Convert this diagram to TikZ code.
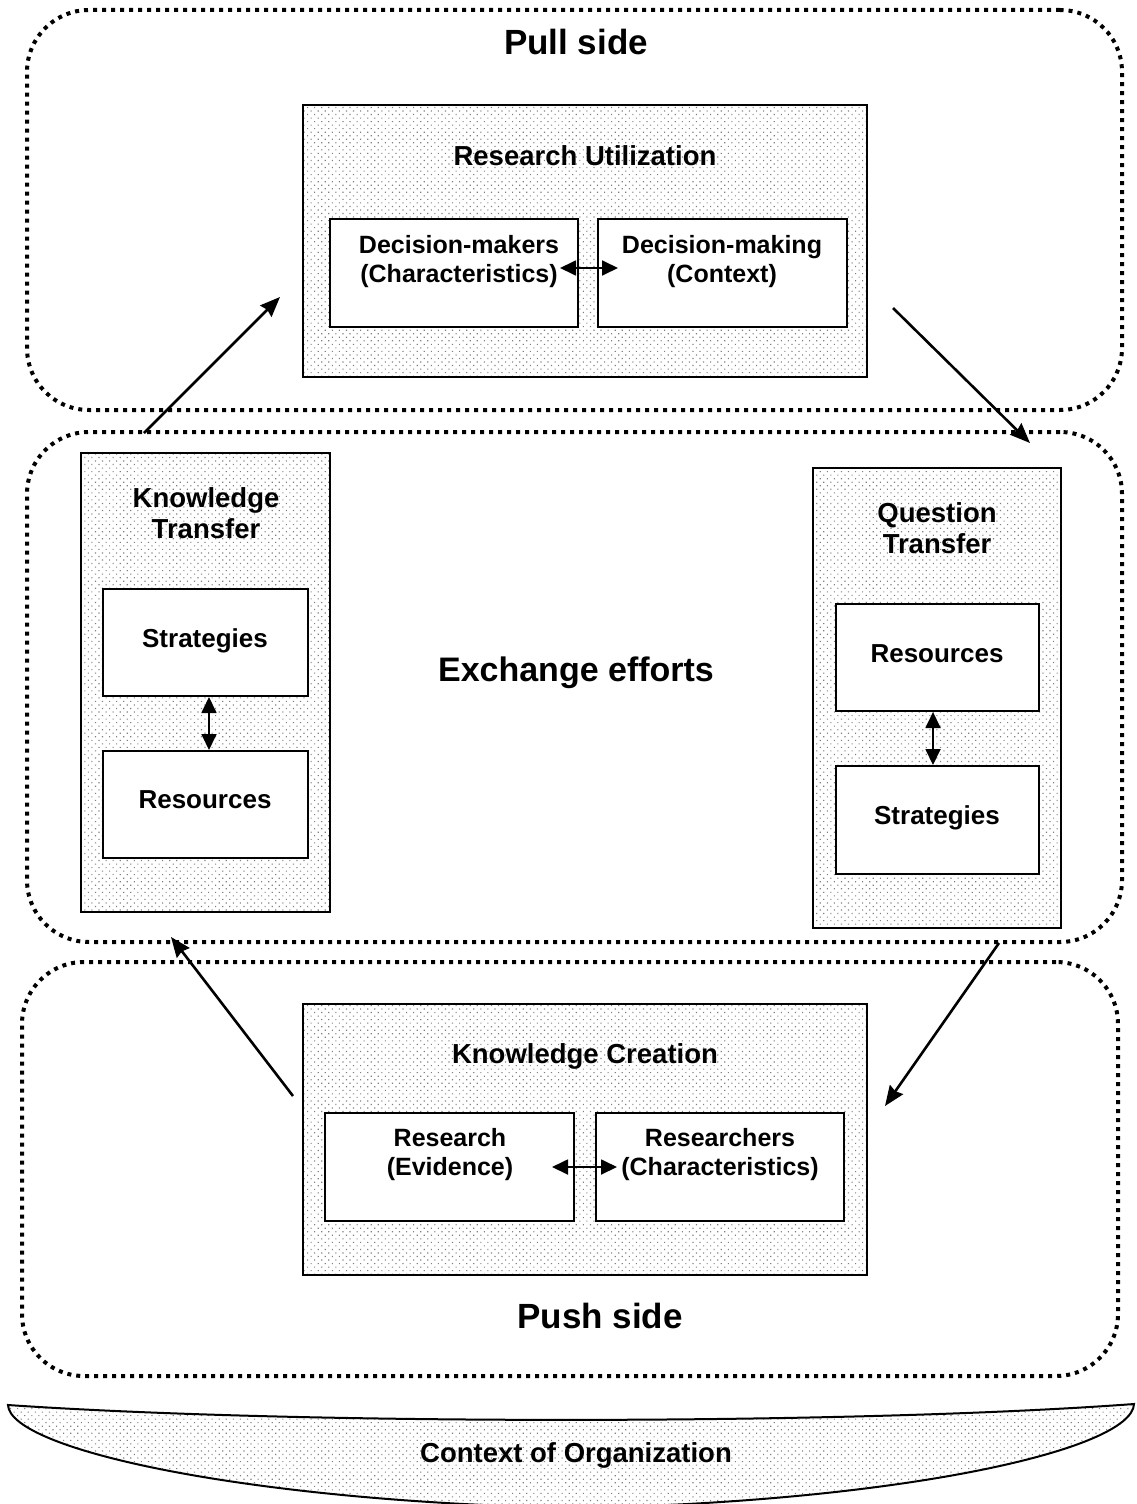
\documentclass[tikz,border=0pt]{standalone}
\usepackage{fontspec}
\setmainfont{Liberation Sans}
\usetikzlibrary{patterns.meta,arrows.meta}
\tikzset{
  zone/.style={draw, line width=4pt, dash pattern=on 4pt off 5pt, rounded corners=62pt, inner sep=0pt},
  bigbox/.style={draw, line width=2pt, inner sep=0pt, preaction={fill=white},
    pattern={Dots[distance=5pt, angle=45, radius=0.8pt]}, pattern color=black!50},
  inbox/.style={draw, line width=2pt, fill=white, inner sep=0pt},
  txt/.style={font=\bfseries\fontsize{26}{31}\selectfont, align=center, inner sep=0pt, text height=19pt, text depth=0pt},
  ttl/.style={font=\bfseries\fontsize{27.5}{31}\selectfont, align=center, inner sep=0pt, text height=20pt, text depth=0pt},
  ttltwo/.style={font=\bfseries\fontsize{27.5}{31}\selectfont, align=center, inner sep=0pt},
  txttwo/.style={font=\bfseries\fontsize{25}{29}\selectfont, align=center, inner sep=0pt},
  bigtxt/.style={font=\bfseries\fontsize{35}{40}\selectfont, align=center, inner sep=0pt, text height=25pt, text depth=0pt},
  flow/.style={line width=2.6pt, -{Stealth[length=20pt, width=16pt, inset=2pt]}},
  twoway/.style={line width=1.8pt, {Triangle[length=16pt, width=15pt]}-{Triangle[length=16pt, width=15pt]}},
}
\begin{document}
\begin{tikzpicture}[x=1pt, y=-1pt]
\useasboundingbox (0,0) rectangle (1136,1504);

% zones
\node[zone, minimum width=1095pt, minimum height=400pt] (pull) at (574.5,210) {};
\node[zone, minimum width=1095pt, minimum height=510pt] (exch) at (574.5,687) {};
\node[zone, minimum width=1096pt, minimum height=414pt] (push) at (570,1169) {};

\node[bigtxt] (pullt) at (576,42) {Pull side};
\node[bigtxt, font=\bfseries\fontsize{34}{40}\selectfont] (excht) at (576,669) {Exchange efforts};
\node[bigtxt] (pusht) at (600,1316) {Push side};

% Research Utilization
\node[bigbox, minimum width=564pt, minimum height=272pt] (ru) at (585,241) {};
\node[ttl] (rut) at (585,155) {Research Utilization};
\node[inbox, minimum width=248pt, minimum height=108pt] (dm1) at (454,273) {};
\node[inbox, minimum width=249pt, minimum height=108pt] (dm2) at (722.5,273) {};
\node[txttwo] (dm1t) at (459,262) {Decision-makers\\(Characteristics)};
\node[txttwo] (dm2t) at (722,262) {Decision-making\\(Context)};
\coordinate (dmL) at (560,268);
\coordinate (dmR) at (618,268);
\draw[twoway] (dmL) -- (dmR);

% Knowledge Transfer
\node[bigbox, minimum width=249pt, minimum height=459pt] (kt) at (205.5,682.5) {};
\node[ttltwo] (ktt) at (206,513) {Knowledge\\Transfer};
\node[inbox, minimum width=205pt, minimum height=107pt] (kts) at (205.5,642.5) {};
\node[inbox, minimum width=205pt, minimum height=107pt] (ktr) at (205.5,804.5) {};
\node[txt] (ktst) at (205,638) {Strategies};
\node[txt] (ktrt) at (205,799) {Resources};
\draw[twoway] (kts.south -| 209,0) -- (ktr.north -| 209,0);

% Question Transfer
\node[bigbox, minimum width=248pt, minimum height=460pt] (qt) at (937,698) {};
\node[ttltwo] (qtt) at (937,528) {Question\\Transfer};
\node[inbox, minimum width=203pt, minimum height=107pt] (qtr) at (937.5,657.5) {};
\node[inbox, minimum width=203pt, minimum height=108pt] (qts) at (937.5,820) {};
\node[txt] (qtrt) at (937,653) {Resources};
\node[txt] (qtst) at (937,815) {Strategies};
\draw[twoway] (qtr.south -| 933,0) -- (qts.north -| 933,0);

% Knowledge Creation
\node[bigbox, minimum width=564pt, minimum height=271pt] (kc) at (585,1139.5) {};
\node[ttl] (kct) at (585,1053) {Knowledge Creation};
\node[inbox, minimum width=249pt, minimum height=108pt] (re) at (449.5,1167) {};
\node[inbox, minimum width=248pt, minimum height=108pt] (rc) at (720,1167) {};
\node[txttwo] (ret) at (450,1155) {Research\\(Evidence)};
\node[txttwo] (rct) at (720,1155) {Researchers\\(Characteristics)};
\coordinate (rL) at (552,1167);
\coordinate (rR) at (617,1167);
\draw[twoway] (rL) -- (rR);

% cycle arrows
\coordinate (a1s) at (144,433);
\coordinate (a1e) at (280,297);
\coordinate (a2s) at (893,308);
\coordinate (a2e) at (1030,443);
\coordinate (a3s) at (999,943);
\coordinate (a3e) at (885,1106);
\coordinate (a4s) at (293,1096);
\coordinate (a4e) at (171,937);
\draw[flow] (a1s) -- (a1e);
\draw[flow] (a2s) -- (a2e);
\draw[flow] (a3s) -- (a3e);
\draw[flow] (a4s) -- (a4e);

% Context of Organization
\coordinate (cl) at (8,1405);
\coordinate (cr) at (1134,1404);
\coordinate (cb) at (576,1508);
\path[draw, line width=2pt, preaction={fill=white},
  pattern={Dots[distance=5pt, angle=45, radius=0.8pt]}, pattern color=black!50]
  (cl) .. controls (300,1425) and (850,1425) .. (cr)
  .. controls (1132,1450) and (900,1502) .. (cb)
  .. controls (250,1502) and (10,1450) .. (cl) -- cycle;
\node[ttl] (ctx) at (576,1452) {Context of Organization};
\end{tikzpicture}
\end{document}
